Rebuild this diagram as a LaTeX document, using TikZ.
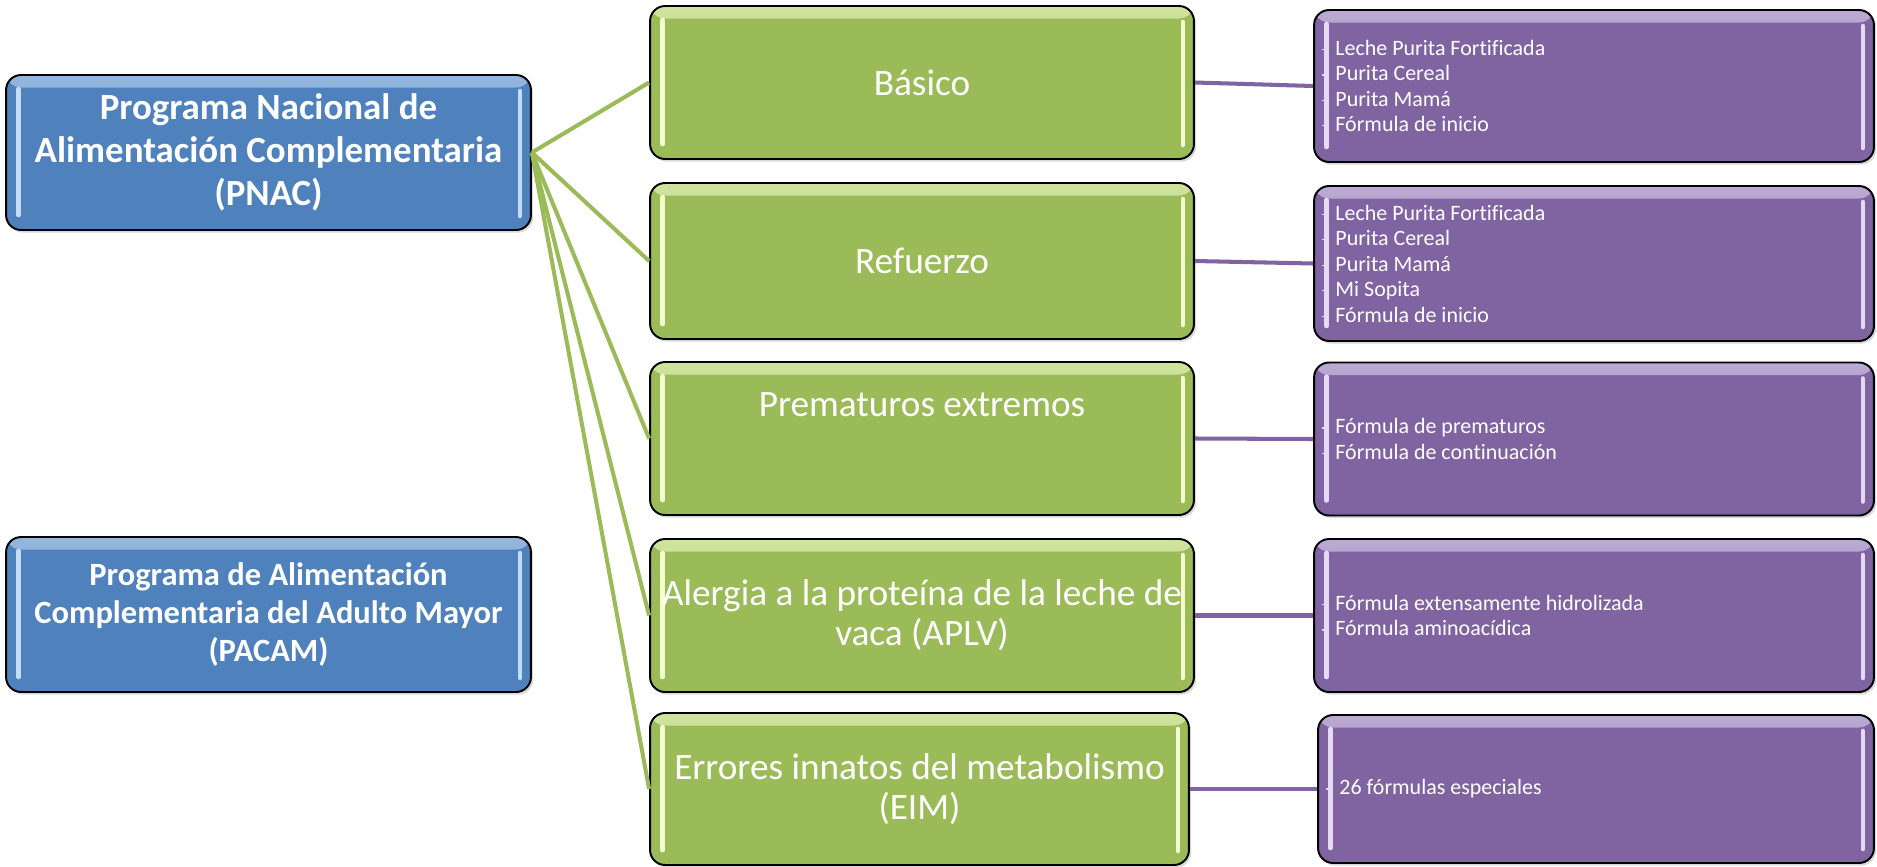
\documentclass[tikz,border=0pt]{standalone}
\usepackage{fontspec}
\setmainfont{Carlito}[Ligatures=NoCommon]
\usetikzlibrary{shadows}
\definecolor{azul}{HTML}{4F81BD}
\definecolor{azulclaro}{HTML}{C4DCF7}
\definecolor{verde}{HTML}{9BBB59}
\definecolor{verdeclaro}{HTML}{F3FFCC}
\definecolor{morado}{HTML}{8064A2}
\definecolor{moradoclaro}{HTML}{E4DAF3}
\tikzset{brillo/.style 2 args={path picture={
  \shade[top color=#2!60!#1, bottom color=#1] (path picture bounding box.north west) rectangle ([yshift=-0.25cm]path picture bounding box.north east);
  \draw[#2, line width=2.6pt, line cap=round] ([xshift=0.25cm,yshift=-0.28cm]path picture bounding box.north west) -- ([xshift=0.25cm,yshift=0.3cm]path picture bounding box.south west);
  \draw[#2, line width=2.6pt, line cap=round] ([xshift=-0.22cm,yshift=-0.32cm]path picture bounding box.north east) -- ([xshift=-0.22cm,yshift=0.28cm]path picture bounding box.south east);
}}}
\tikzstyle{caja}=[draw=black,line width=1.1pt,rounded corners=0.3cm,drop shadow={opacity=0.3,shadow xshift=1.2pt,shadow yshift=-1.5pt}]
\tikzstyle{programa}=[caja,fill=azul,brillo={azul}{azulclaro},text=white,align=center,font=\bfseries\fontsize{21}{24.5}\selectfont,minimum width=10.5cm,minimum height=3.1cm]
\tikzstyle{subprograma}=[caja,fill=verde,brillo={verde}{verdeclaro},text=white,align=center,font=\fontsize{21.2}{22.8}\selectfont,minimum width=10.88cm,minimum height=3.06cm,inner sep=1pt]
\tikzstyle{producto}=[caja,fill=morado,brillo={morado}{moradoclaro},minimum width=11.2cm,minimum height=3.06cm]
\tikzstyle{lista}=[text=white,align=left,anchor=west,inner sep=0pt,font=\fontsize{12.5}{14.5}\selectfont]
\tikzstyle{rama}=[draw=verde,line width=2.3pt]
\tikzstyle{enlace}=[draw=morado,line width=2.3pt]
\newcommand{\guion}{\llap{\textcolor{moradoclaro}{\rule[0.24em]{3.2pt}{0.7pt}}\hspace{4.3pt}}}
\begin{document}
\begin{tikzpicture}[x=0.02cm,y=-0.02cm]
\useasboundingbox (0,0) rectangle (1877,866);
% programas
  \node[programa] (pnac) at (268.5,152.5) {Programa Nacional de\\Alimentación Complementaria\\(PNAC)};
  \node[programa,font=\bfseries\fontsize{18.5}{21.5}\selectfont] (pacam) at (268.5,614.5) {Programa de Alimentación\\Complementaria del Adulto Mayor\\(PACAM)};
% subprogramas
  \node[subprograma] (basico) at (922,82.5) {Básico};
  \node[subprograma,minimum height=3.12cm] (refuerzo) at (922,261) {Refuerzo};
  \node[subprograma,text depth=1.36cm] (prematuros) at (922,438.5) {Prematuros extremos};
  \node[subprograma] (alergia) at (922,615.5) {Alergia a la proteína de la leche de\\vaca (APLV)};
  \node[subprograma,minimum width=10.78cm,minimum height=3.04cm] (errores) at (919.5,789) {Errores innatos del metabolismo\\(EIM)};
% productos
  \node[producto,minimum height=3.04cm] (pbasico) at (1594,86) {};
  \node[producto,minimum height=3.1cm] (prefuerzo) at (1594,263.5) {};
  \node[producto] (pprematuros) at (1594,439) {};
  \node[producto] (palergia) at (1594,615.5) {};
  \node[producto,minimum width=11.12cm,minimum height=2.96cm] (perrores) at (1596,789) {};
  \node[lista] (lbasico) at ([xshift=0.44cm]pbasico.west) {\guion Leche Purita Fortificada\\\guion Purita Cereal\\\guion Purita Mamá\\\guion Fórmula de inicio};
  \node[lista] (lrefuerzo) at ([xshift=0.44cm]prefuerzo.west) {\guion Leche Purita Fortificada\\\guion Purita Cereal\\\guion Purita Mamá\\\guion Mi Sopita\\\guion Fórmula de inicio};
  \node[lista] (lprematuros) at ([xshift=0.44cm]pprematuros.west) {\guion Fórmula de prematuros\\\guion Fórmula de continuación};
  \node[lista] (lalergia) at ([xshift=0.44cm]palergia.west) {\guion Fórmula extensamente hidrolizada\\\guion Fórmula aminoacídica};
  \node[lista] (lerrores) at ([xshift=0.44cm]perrores.west) {\guion 26 fórmulas especiales};
% ramas
  \path[rama] (pnac.east) edge (basico.west) edge (refuerzo.west) edge (prematuros.west)
    edge (alergia.west) edge (errores.west);
% enlaces
  \draw[enlace] (basico.east) -- (pbasico.west);
  \draw[enlace] (refuerzo.east) -- (prefuerzo.west);
  \draw[enlace] (prematuros.east) -- (pprematuros.west);
  \draw[enlace] (alergia.east) -- (palergia.west);
  \draw[enlace] (errores.east) -- (perrores.west);
\end{tikzpicture}
\end{document}
